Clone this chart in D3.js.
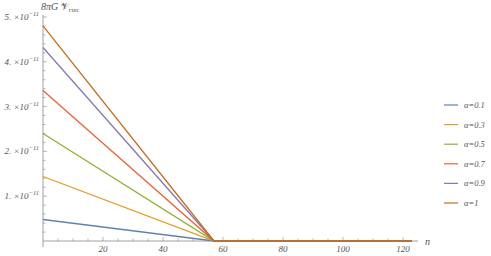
<!DOCTYPE html>
<html>
<head>
<meta charset="utf-8">
<script src="https://cdn.jsdelivr.net/npm/d3@7"></script>
<style>
  body { margin: 0; background: #fff; }
  text { font-family: "Liberation Serif", "DejaVu Serif", serif; font-style: italic; fill: #555; }
</style>
</head>
<body>
<script>
// Values (units of 1e-11)
const alphas = ["0.1", "0.3", "0.5", "0.7", "0.9", "1"];
const nPoints = [0, 57, 123];
const seriesValues = [
  [0.48, 0, 0],
  [1.44, 0, 0],
  [2.40, 0, 0],
  [3.36, 0, 0],
  [4.32, 0, 0],
  [4.80, 0, 0]
];
const yTicks = [1, 2, 3, 4, 5];
const xTicks = [20, 40, 60, 80, 100, 120];

const colors = ["#5E81B5", "#E19C24", "#8FB032", "#EB6235", "#8778B3", "#C56E1A"];

const W = 491, H = 256;
const svg = d3.select("body").append("svg")
    .attr("width", W)
    .attr("height", H);

// Scales
const xScale = d3.scaleLinear().domain([0, 125]).range([43, 418]);
const yScale = d3.scaleLinear().domain([0, 5]).range([241, 17]);

const axisColor = "#888";

// x axis
svg.append("line")
    .attr("x1", xScale(0)).attr("x2", xScale(125))
    .attr("y1", yScale(0)).attr("y2", yScale(0))
    .attr("stroke", axisColor).attr("stroke-width", 0.8);
d3.range(5, 125, 5).forEach(v => {
    const major = v % 20 === 0;
    svg.append("line")
        .attr("x1", xScale(v)).attr("x2", xScale(v))
        .attr("y1", yScale(0)).attr("y2", yScale(0) - (major ? 4 : 2.5))
        .attr("stroke", axisColor).attr("stroke-width", 0.6);
});
svg.selectAll(".xlab")
    .data(xTicks)
    .enter().append("text")
    .attr("class", "xlab")
    .attr("x", d => xScale(d))
    .attr("y", 252)
    .attr("text-anchor", "middle")
    .attr("font-size", "9px")
    .text(d => d);
svg.append("text")
    .attr("x", 425).attr("y", 245)
    .attr("font-size", "10px")
    .text("n");

// y axis
svg.append("line")
    .attr("x1", xScale(0)).attr("x2", xScale(0))
    .attr("y1", yScale(0) + 6).attr("y2", yScale(5.05))
    .attr("stroke", axisColor).attr("stroke-width", 0.8);
d3.range(0.2, 5.01, 0.2).forEach(v => {
    const major = Math.abs(v - Math.round(v)) < 1e-6;
    svg.append("line")
        .attr("x1", xScale(0)).attr("x2", xScale(0) + (major ? 4 : 2.5))
        .attr("y1", yScale(v)).attr("y2", yScale(v))
        .attr("stroke", axisColor).attr("stroke-width", 0.6);
});
const yLabels = svg.selectAll(".ylab")
    .data(yTicks)
    .enter().append("text")
    .attr("class", "ylab")
    .attr("x", 39)
    .attr("y", d => yScale(d) + 3)
    .attr("text-anchor", "end")
    .attr("font-size", "9px");
yLabels.append("tspan").text(d => d + ". \u00d710");
yLabels.append("tspan").attr("dy", -4).attr("font-size", "6.5px").text("\u221211");

// y label
const yl = svg.append("text")
    .attr("x", 41).attr("y", 10)
    .attr("font-size", "10px");
yl.append("tspan").text("8\u03c0G ");
yl.append("tspan").attr("font-family", "DejaVu Sans").attr("font-style", "normal").text("\ud835\udcb1");
yl.append("tspan").attr("dy", 2).attr("font-size", "7px").text("run");

// Lines
const line = d3.line()
    .x((d, i) => xScale(nPoints[i]))
    .y(d => yScale(d));

seriesValues.forEach((vals, i) => {
    svg.append("path")
        .datum(vals)
        .attr("fill", "none")
        .attr("stroke", colors[i])
        .attr("stroke-width", 1.3)
        .attr("d", line);
});

// Legend
alphas.forEach((a, i) => {
    const y = 105 + 19.6 * i;
    svg.append("line")
        .attr("x1", 444).attr("x2", 458)
        .attr("y1", y).attr("y2", y)
        .attr("stroke", colors[i]).attr("stroke-width", 1.2);
    const t = svg.append("text")
        .attr("x", 464).attr("y", y + 3)
        .attr("font-size", "8.5px");
    t.append("tspan").text("\u03b1");
    t.append("tspan").text("=" + a);
});
</script>
</body>
</html>
